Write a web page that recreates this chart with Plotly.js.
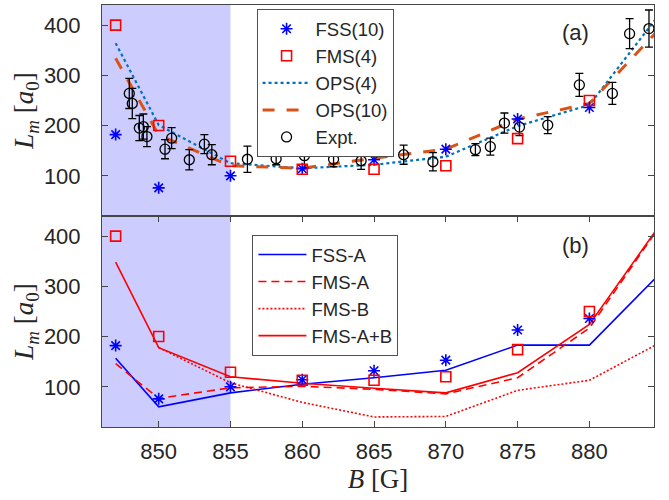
<!DOCTYPE html>
<html>
<head>
<meta charset="utf-8">
<script src="https://cdn.plot.ly/plotly-3.0.1.min.js"></script>
<style>
  html, body { margin: 0; padding: 0; background: #fff; }
  #chart { width: 669px; height: 500px; }
</style>
</head>
<body>
<div id="chart"></div>
<script>
// Magnetic field values (G) where the theory curves are evaluated
const fieldTheory = [847, 850, 855, 860, 865, 870, 875, 880];
const fieldLines = [847, 850, 855, 860, 865, 870, 875, 880, 885];
const fieldFmsB = [850, 855, 860, 865, 870, 875, 880, 885];

// Panel (a): model results
const fss10 = [182, 76, 100, 114, 132, 153, 213, 236];
const fms4 = [400, 200, 129, 113, 113, 120, 174, 250];
const ops4 = [364, 201, 125, 115, 122, 138, 199, 241, 426];
const ops10 = [334, 181, 120, 115, 135, 153, 213, 244, 396];

// Panel (a): measurements with uncertainties
const exptField = [847.95, 848.16, 848.65, 848.93, 849.18, 850.44, 850.9, 852.13, 853.18, 853.7,
                   856.18, 858.18, 860.15, 862.18, 864.1, 867.06, 869.1, 872.06, 873.1, 874.08,
                   875.13, 877.1, 879.3, 881.6, 882.8, 884.15];
const exptL = [264, 244, 195, 198, 178, 153, 175, 132, 163, 142,
               133, 134, 140, 133, 130, 142, 128, 152, 158, 205,
               197, 201, 281, 264, 383, 393];
const exptErr = [30, 30, 25, 25, 20, 19, 21, 20, 19, 20,
                 26, 12, 24, 15, 17, 19, 18, 12, 17, 20,
                 17, 17, 23, 22, 30, 37];

// Panel (b): decomposition of the scattering-length model
const fssA = [157, 60, 88, 105, 118, 133, 183, 183, 328];
const fmsA = [146, 77, 98, 101, 95, 86, 118, 217, 424];
const fmsB = [178, 108, 69, 40, 41, 93, 113, 189];
const fmsAB = [348, 178, 120, 107, 97, 88, 128, 224, 426];

// Axis ticks
const xTicks = [850, 855, 860, 865, 870, 875, 880];
const yTicks = [100, 200, 300, 400];

const BLUE = 'rgb(0,0,255)';
const RED = 'rgb(255,0,0)';
const OPS_BLUE = 'rgb(0,114,189)';
const OPS_ORANGE = 'rgb(217,83,25)';

const starMarker = { symbol: 'asterisk-open', size: 10, color: BLUE, line: { color: BLUE, width: 1.6 } };
const squareMarker = { symbol: 'square-open', size: 10, color: RED, line: { color: RED, width: 1.6 } };

const traces = [
  // ---- panel (a)
  { x: fieldLines, y: ops4, xaxis: 'x', yaxis: 'y', mode: 'lines', name: 'OPS(4)',
    line: { color: OPS_BLUE, width: 2.2, dash: 'dot' }, legend: 'legend', legendrank: 3 },
  { x: fieldLines, y: ops10, xaxis: 'x', yaxis: 'y', mode: 'lines', name: 'OPS(10)',
    line: { color: OPS_ORANGE, width: 3, dash: '12px,12px' }, legend: 'legend', legendrank: 4 },
  { x: exptField, y: exptL, xaxis: 'x', yaxis: 'y', mode: 'markers', name: 'Expt.',
    marker: { symbol: 'circle-open', size: 10, color: '#000', line: { color: '#000', width: 1.3 } },
    error_y: { type: 'data', array: exptErr, visible: true, color: '#000', thickness: 1.3, width: 4 },
    legend: 'legend', legendrank: 5 },
  { x: fieldTheory, y: fss10, xaxis: 'x', yaxis: 'y', mode: 'markers', name: 'FSS(10)',
    marker: starMarker, legend: 'legend', legendrank: 1 },
  { x: fieldTheory, y: fms4, xaxis: 'x', yaxis: 'y', mode: 'markers', name: 'FMS(4)',
    marker: squareMarker, legend: 'legend', legendrank: 2 },

  // ---- panel (b)
  { x: fieldLines, y: fssA, xaxis: 'x2', yaxis: 'y2', mode: 'lines', name: 'FSS-A',
    line: { color: BLUE, width: 1.6 }, legend: 'legend2', legendrank: 1 },
  { x: fieldLines, y: fmsA, xaxis: 'x2', yaxis: 'y2', mode: 'lines', name: 'FMS-A',
    line: { color: RED, width: 1.6, dash: '8px,5px' }, legend: 'legend2', legendrank: 2 },
  { x: fieldFmsB, y: fmsB, xaxis: 'x2', yaxis: 'y2', mode: 'lines', name: 'FMS-B',
    line: { color: RED, width: 1.6, dash: '2px,2px' }, legend: 'legend2', legendrank: 3 },
  { x: fieldLines, y: fmsAB, xaxis: 'x2', yaxis: 'y2', mode: 'lines', name: 'FMS-A+B',
    line: { color: RED, width: 1.6 }, legend: 'legend2', legendrank: 4 },
  { x: fieldTheory, y: fss10, xaxis: 'x2', yaxis: 'y2', mode: 'markers', name: 'FSS(10)',
    marker: starMarker, showlegend: false },
  { x: fieldTheory, y: fms4, xaxis: 'x2', yaxis: 'y2', mode: 'markers', name: 'FMS(4)',
    marker: squareMarker, showlegend: false }
];

const FRAME = 'rgb(70,70,70)';
const SANS = 'Liberation Sans, Arial, sans-serif';
const TICKFONT = { family: SANS, size: 22, color: '#262626' };
const TITLEFONT = { family: 'Liberation Serif, DejaVu Serif, serif', size: 27, color: '#262626' };
const xRange = [846.05, 884.5];

const yCommon = {
  range: [20, 440], tickvals: yTicks, ticks: 'inside', ticklen: 6, tickcolor: FRAME,
  showline: true, linecolor: FRAME, linewidth: 1, mirror: 'ticks', showgrid: false,
  zeroline: false, tickfont: TICKFONT, ticklabelstandoff: 16,
  title: { text: '<i>L<sub>m</sub></i> [<i>a</i><sub>0</sub>]', font: TITLEFONT, standoff: 2 }
};

const legendCommon = {
  bgcolor: '#ffffff', bordercolor: 'rgb(80,80,80)', borderwidth: 1,
  font: { family: SANS, size: 18.5, color: '#262626' },
  xanchor: 'left', yanchor: 'top', itemwidth: 48, traceorder: 'normal'
};

const layout = {
  width: 669, height: 500,
  margin: { l: 102, r: 15, t: 5, b: 73 },
  paper_bgcolor: '#ffffff', plot_bgcolor: '#ffffff',
  xaxis: {
    domain: [0, 1], anchor: 'y', range: xRange, showticklabels: false, ticks: '',
    showline: true, linecolor: FRAME, linewidth: 1, mirror: true, showgrid: false, zeroline: false
  },
  yaxis: Object.assign({}, yCommon, { domain: [0.5, 1], anchor: 'x' }),
  xaxis2: {
    domain: [0, 1], anchor: 'y2', range: xRange, tickvals: xTicks, ticks: 'inside', ticklen: 6,
    tickcolor: FRAME, showline: true, linecolor: FRAME, linewidth: 1, mirror: 'ticks',
    showgrid: false, zeroline: false, tickfont: TICKFONT, ticklabelstandoff: 5,
    title: { text: '<i>B</i> [G]', font: TITLEFONT, standoff: 4 }
  },
  yaxis2: Object.assign({}, yCommon, { domain: [0, 0.5], anchor: 'x2' }),
  legend: Object.assign({}, legendCommon, { x: 0.28, y: 0.99 }),
  legend2: Object.assign({}, legendCommon, { x: 0.2725, y: 0.455 }),
  shapes: [
    { type: 'rect', xref: 'x', yref: 'y domain', x0: xRange[0], x1: 855, y0: 0, y1: 1,
      fillcolor: 'rgb(204,204,255)', line: { width: 0 }, layer: 'below' },
    { type: 'rect', xref: 'x2', yref: 'y2 domain', x0: xRange[0], x1: 855, y0: 0, y1: 1,
      fillcolor: 'rgb(204,204,255)', line: { width: 0 }, layer: 'below' }
  ],
  annotations: [
    { text: '(a)', xref: 'paper', yref: 'paper', x: 0.858, y: 0.934, showarrow: false,
      xanchor: 'center', yanchor: 'middle', font: { family: SANS, size: 22, color: '#262626' } },
    { text: '(b)', xref: 'paper', yref: 'paper', x: 0.858, y: 0.431, showarrow: false,
      xanchor: 'center', yanchor: 'middle', font: { family: SANS, size: 22, color: '#262626' } }
  ]
};

Plotly.newPlot('chart', traces, layout, { displayModeBar: false, staticPlot: true });
</script>
</body>
</html>
